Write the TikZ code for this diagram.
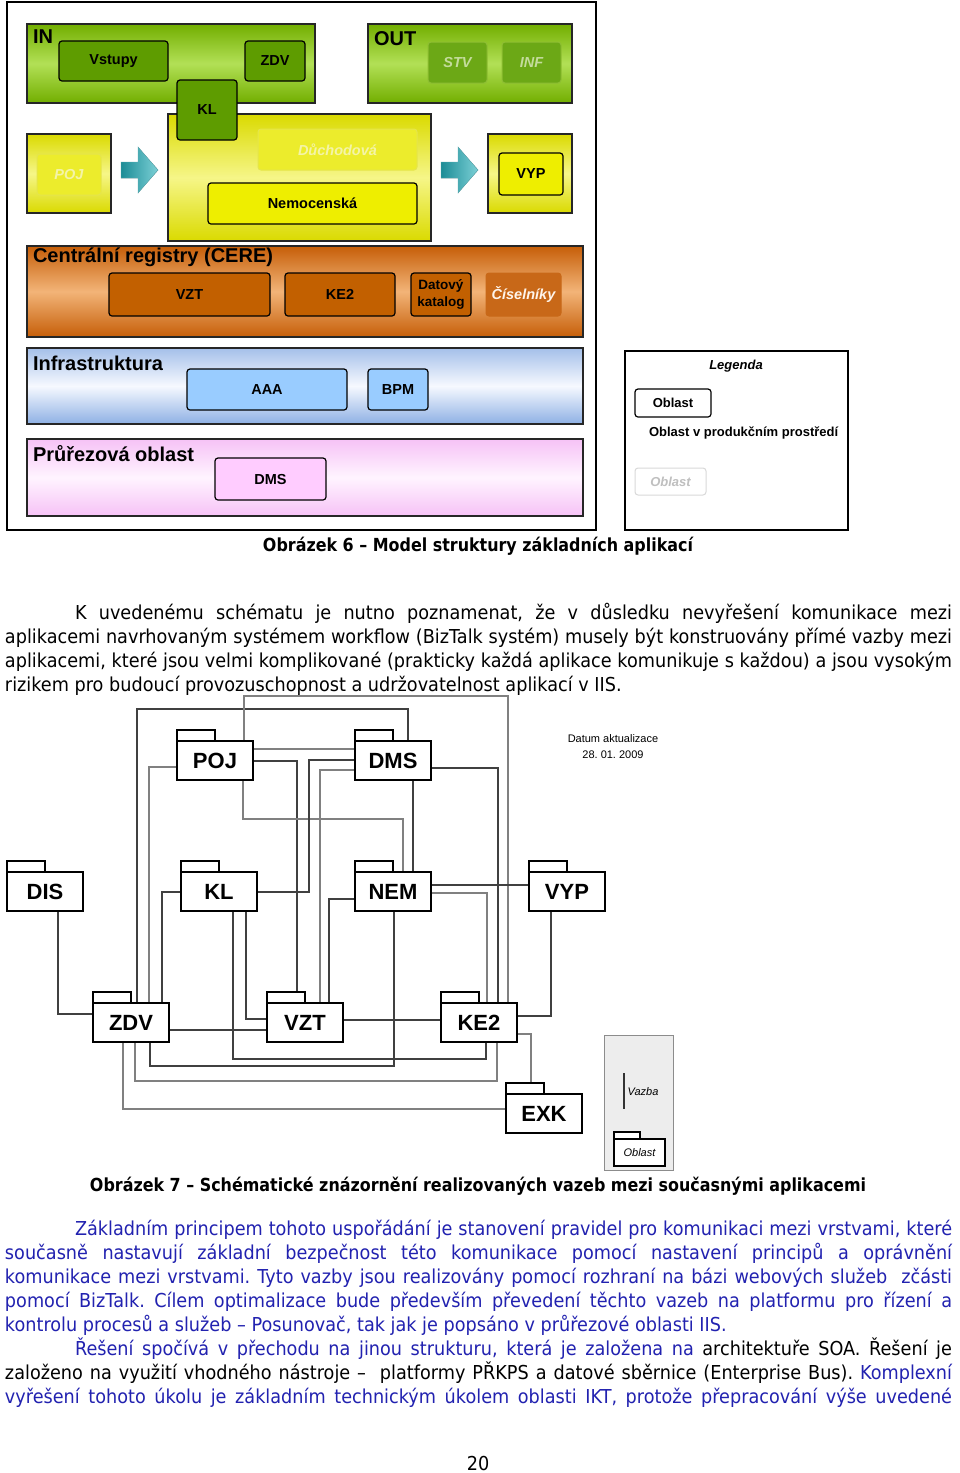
\documentclass[tikz,border=0pt]{standalone}
\usepackage{fontspec}
\usepackage{graphicx}
\newfontfamily\arial{Liberation Sans}
\newfontfamily\bodyf[FakeStretch=0.92]{DejaVu Sans}
\usetikzlibrary{calc}
\pgfdeclarelayer{bg}
\pgfdeclarelayer{wires}
\pgfsetlayers{bg,wires,main}
\frenchspacing
\definecolor{grA}{HTML}{72AE00}
\definecolor{grB}{HTML}{B2E056}
\definecolor{grD}{HTML}{5E9C00}
\definecolor{grF}{HTML}{6CA816}
\definecolor{grT}{HTML}{C4DC9C}
\definecolor{yeA}{HTML}{DADA00}
\definecolor{yeB}{HTML}{F6F688}
\definecolor{yeI}{HTML}{EEEE00}
\definecolor{yeF}{HTML}{ECEC2C}
\definecolor{yeT}{HTML}{F4F4A8}
\definecolor{orA}{HTML}{C65E08}
\definecolor{orB}{HTML}{F2B478}
\definecolor{orI}{HTML}{C26000}
\definecolor{orF}{HTML}{C86818}
\definecolor{blA}{HTML}{8EB0E4}
\definecolor{blB}{HTML}{F6F9FF}
\definecolor{blI}{HTML}{99CCFF}
\definecolor{piA}{HTML}{F6C2F6}
\definecolor{piB}{HTML}{FFF4FF}
\definecolor{piI}{HTML}{FFCCFF}
\definecolor{teA}{HTML}{7CD0D6}
\definecolor{teB}{HTML}{1C8C96}
\definecolor{bluetxt}{RGB}{34,34,176}
\definecolor{lgray}{HTML}{EDEDED}
\tikzset{
  every node/.style={inner sep=0pt,outer sep=0pt},
  areabox/.style={draw=black!85,line width=1.3pt},
  grarea/.style={areabox,top color=grA,bottom color=grA,middle color=grB},
  yearea/.style={areabox,top color=yeA,bottom color=yeA,middle color=yeB},
  orarea/.style={areabox,top color=orA,bottom color=orA,middle color=orB},
  blarea/.style={areabox,top color=blA!80,bottom color=blA,middle color=blB},
  piarea/.style={areabox,top color=piA,bottom color=piA,middle color=piB},
  lbltxt/.style={font=\arial\bfseries\fontsize{14.5}{17}\selectfont},
  ibox/.style={lbltxt,draw=black,line width=1.2pt,rounded corners=3pt},
  fbox/.style={font=\arial\bfseries\itshape\fontsize{14.5}{17}\selectfont,rounded corners=3pt,line width=1pt},
  ttltxt/.style={anchor=base west,font=\arial\bfseries\fontsize{20}{22}\selectfont},
  frmbox/.style={draw=black,line width=1.6pt},
  legtxt/.style={font=\arial\bfseries\fontsize{13}{15}\selectfont},
  bodytxt/.style={anchor=base west,font=\bodyf\fontsize{19.2}{24}\selectfont},
  captxt/.style={anchor=base,font=\bodyf\bfseries\fontsize{18}{22}\selectfont},
  pkgbody/.style={draw=black,fill=white,line width=1.3pt,minimum width=76pt,minimum height=39pt,font=\arial\bfseries\fontsize{22}{24}\selectfont},
  pkgtab/.style={draw=black,fill=white,line width=1.3pt},
  wk/.style={draw=black!75,line width=1.1pt},
  wg/.style={draw=black!50,line width=1.1pt},
  smalltxt/.style={font=\arial\fontsize{11}{13}\selectfont},
  arrowsh/.style={left color=teB,right color=teA,draw=teB!70,line width=0.4pt}
}
\newcommand\bx[7]{\node[#1,anchor=north west,minimum width={(#4-#2)*1pt},minimum height={(#5-#3)*1pt}] (#6) at (#2,#3) {#7};}
\newcommand\pkg[4]{\node[pkgbody,anchor=north west] (#1) at (#2,#3) {#4};\draw[pkgtab] (#1.north west) rectangle ++(38pt,11pt);}
\begin{document}
\begin{tikzpicture}[x=1pt,y=-1pt]
\begin{pgfonlayer}{bg}
\fill[white] (0,0) rectangle (960,1473);
\end{pgfonlayer}
\useasboundingbox (0,0) rectangle (960,1473);

% ---------------- Figure 6 ----------------
\bx{frmbox}{7}{2}{596}{530}{fr6}{}
\bx{grarea}{27}{24}{315}{103}{tIN}{}
\node[ttltxt] (tINl) at (33,43) {IN};
\bx{grarea}{368}{24}{572}{103}{tOUT}{}
\node[ttltxt] (tOUTl) at (374,45) {OUT};
\bx{ibox,fill=grD}{59}{41}{168}{81}{tVst}{Vstupy}
\bx{ibox,fill=grD}{245}{41}{305}{81}{tZDV}{ZDV}
\bx{fbox,fill=grF,draw=grA!80!white,text=grT}{428}{42}{487}{83}{tSTV}{STV}
\bx{fbox,fill=grF,draw=grA!80!white,text=grT}{502}{42}{561}{83}{tINF}{INF}

\bx{yearea}{27}{134}{111}{213}{tPOJa}{}
\bx{fbox,fill=yeF,draw=yeA!70!white,text=yeT}{37}{154}{101}{195}{tPOJ}{POJ}
\bx{yearea}{168}{114}{431}{241}{tBig}{}
\bx{fbox,fill=yeF,draw=yeA!70!white,text=yeT}{258}{129}{417}{170}{tDuch}{Důchodová}
\bx{ibox,fill=yeI}{208}{183}{417}{224}{tNem}{Nemocenská}
\bx{yearea}{488}{134}{572}{213}{tVYPa}{}
\bx{ibox,fill=yeI}{499}{153}{563}{195}{tVYP}{VYP}
\bx{ibox,fill=grD}{177}{80}{237}{140}{tKL}{KL}

\fill[arrowsh] (121,162) -- (138,162) -- (138,147) -- (158,170) -- (138,193) -- (138,178) -- (121,178) -- cycle;
\fill[arrowsh] (441,162) -- (458,162) -- (458,147) -- (478,170) -- (458,193) -- (458,178) -- (441,178) -- cycle;

\bx{orarea}{27}{246}{583}{337}{tCERE}{}
\node[ttltxt] (tCEREl) at (33,262) {Centrální registry (CERE)};
\bx{ibox,fill=orI}{109}{273}{270}{316}{tVZT}{VZT}
\bx{ibox,fill=orI}{285}{273}{395}{316}{tKE2}{KE2}
\bx{ibox,fill=orI,align=center,font=\arial\bfseries\fontsize{13.5}{17}\selectfont}{411}{273}{471}{316}{tDK}{Datový\\katalog}
\bx{fbox,fill=orF,draw=orF,text=white!92!orange}{486}{273}{561}{316}{tCis}{Číselníky}

\bx{blarea}{27}{348}{583}{424}{tInf}{}
\node[ttltxt] (tInfl) at (33,370) {Infrastruktura};
\bx{ibox,fill=blI}{187}{369}{347}{410}{tAAA}{AAA}
\bx{ibox,fill=blI}{368}{369}{428}{410}{tBPM}{BPM}

\bx{piarea}{27}{439}{583}{516}{tPru}{}
\node[ttltxt] (tPrul) at (33,461) {Průřezová oblast};
\bx{ibox,fill=piI}{215}{458}{326}{500}{tDMS}{DMS}

% legend
\bx{draw=black,line width=1.5pt}{625}{351}{848}{530}{tLeg}{}
\node[legtxt,font=\arial\bfseries\itshape\fontsize{13}{15}\selectfont] (tLegT) at (736,366) {Legenda};
\bx{legtxt,draw=black,line width=1.2pt,rounded corners=3pt,fill=white}{635}{389}{711}{417}{tLegO}{Oblast}
\node[legtxt,anchor=west] (tLegD) at (649,433) {Oblast v produkčním prostředí};
\bx{draw=black!15,line width=1pt,rounded corners=3pt,text=black!25,font=\arial\bfseries\itshape\fontsize{13}{15}\selectfont}{635}{468}{706}{495}{tLegF}{Oblast}

\node[captxt] (cap6) at (478,551) {\resizebox{430pt}{\height}{Obrázek 6 – Model struktury základních aplikací}};

% ---------------- paragraph 1 ----------------
\node[bodytxt] (a1) at (75,619) {\makebox[877pt][s]{K uvedenému schématu je nutno poznamenat, že v důsledku nevyřešení komunikace mezi}};
\node[bodytxt] (a2) at (5,643) {\makebox[947pt][s]{aplikacemi navrhovaným systémem workflow (BizTalk systém) musely být konstruovány přímé vazby mezi}};
\node[bodytxt] (a3) at (5,667) {\makebox[947pt][s]{aplikacemi, které jsou velmi komplikované (prakticky každá aplikace komunikuje s každou) a jsou vysokým}};
\node[bodytxt] (a4) at (5,691) {rizikem pro budoucí provozuschopnost a udržovatelnost aplikací v IIS.};

% ---------------- Figure 7 ----------------
\pkg{pPOJ}{177}{741}{POJ}
\pkg{pDMS}{355}{741}{DMS}
\pkg{pDIS}{7}{872}{DIS}
\pkg{pKL}{181}{872}{KL}
\pkg{pNEM}{355}{872}{NEM}
\pkg{pVYP}{529}{872}{VYP}
\pkg{pZDV}{93}{1003}{ZDV}
\pkg{pVZT}{267}{1003}{VZT}
\pkg{pKE2}{441}{1003}{KE2}
\pkg{pEXK}{506}{1094}{EXK}

\begin{pgfonlayer}{wires}
\draw[wk] (pDMS.center -| 408,0) |- (137,709) -- (pZDV.center -| 137,0);
\draw[wg] (pPOJ.center -| 244,0) |- (508,696) -- (pKE2.center -| 508,0);
\draw[wg] (pPOJ.center |- 0,749) -- (pDMS.center |- 0,749);
\draw[wk] (pPOJ.center |- 0,761) -| (pVZT.center -| 297,0);
\draw[wg] (pPOJ.center |- 0,767) -| (pZDV.center -| 149,0);
\draw[wg] (pPOJ.center -| 243,0) |- (403,819) -- (pNEM.center -| 403,0);
\draw[wk] (pDMS.center |- 0,760) -| (309,892) -- (pKL.center |- 0,892);
\draw[wg] (pDMS.center |- 0,770) -| (pVZT.center -| 320,0);
\draw[wk] (pDMS.center -| 413,0) -- (pNEM.center -| 413,0);
\draw[wk] (pDMS.center |- 0,768) -| (pKE2.center -| 498,0);
\draw[wk] (pNEM.center |- 0,899) -| (pVZT.center -| 329,0);
\draw[wk] (pNEM.center |- 0,885) -- (pVYP.center |- 0,885);
\draw[wg] (pNEM.center |- 0,893) -| (pKE2.center -| 487,0);
\draw[wk] (pNEM.center -| 394,0) |- (150,1066) -- (pZDV.center -| 150,0);
\draw[wk] (pVYP.center -| 551,0) |- (pKE2.center |- 0,1016);
\draw[wk] (pVZT.center |- 0,1020) -- (pKE2.center |- 0,1020);
\draw[wk] (pZDV.center |- 0,1030) -- (pVZT.center |- 0,1030);
\draw[wk] (pKL.center |- 0,892) -| (pZDV.center -| 162,0);
\draw[wk] (pKL.center -| 246,0) |- (pVZT.center |- 0,1019);
\draw[wk] (pKL.center -| 233,0) |- (486,1059) -- (pKE2.center -| 486,0);
\draw[wk] (pDIS.center -| 58,0) |- (pZDV.center |- 0,1014);
\draw[wg] (pZDV.center -| 135,0) |- (497,1081) -- (pKE2.center -| 497,0);
\draw[wg] (pZDV.center -| 123,0) |- (pEXK.center |- 0,1109);
\draw[wg] (pKE2.center |- 0,1034) -| (pEXK.center -| 531,0);
\end{pgfonlayer}

\node[smalltxt] (dat1) at (613,739) {Datum aktualizace};
\node[smalltxt] (dat2) at (613,755) {28. 01. 2009};

% legend 7
\bx{fill=lgray,draw=black!45,line width=1pt}{604}{1035}{673}{1170}{pLeg}{}
\coordinate (vzA) at (624,1073);
\coordinate (vzB) at (624,1109);
\draw[black!80,line width=1.3pt] (vzA) -- (vzB);
\node[smalltxt,font=\arial\itshape\fontsize{11}{13}\selectfont] (vzT) at (643,1092) {Vazba};
\node[draw=black,fill=white,line width=1.2pt,anchor=north west,minimum width=51pt,minimum height=27pt,font=\arial\itshape\fontsize{11}{13}\selectfont] (pLegO) at (614,1139) {Oblast};
\draw[pkgtab,line width=1.2pt] (pLegO.north west) rectangle ++(26pt,7pt);

\node[captxt] (cap7) at (478,1191) {\resizebox{776pt}{\height}{Obrázek 7 – Schématické znázornění realizovaných vazeb mezi současnými aplikacemi}};

% ---------------- paragraph 2 ----------------
\begin{scope}[every node/.append style={text=bluetxt}]
\node[bodytxt] (b1) at (75,1235) {\makebox[877pt][s]{Základním principem tohoto uspořádání je stanovení pravidel pro komunikaci mezi vrstvami, které}};
\node[bodytxt] (b2) at (5,1259) {\makebox[947pt][s]{současně nastavují základní bezpečnost této komunikace pomocí nastavení principů a oprávnění}};
\node[bodytxt] (b3) at (5,1283) {\makebox[947pt][s]{komunikace mezi vrstvami. Tyto vazby jsou realizovány pomocí rozhraní na bázi webových služeb~ zčásti}};
\node[bodytxt] (b4) at (5,1307) {\makebox[947pt][s]{pomocí BizTalk. Cílem optimalizace bude především převedení těchto vazeb na platformu pro řízení a}};
\node[bodytxt] (b5) at (5,1331) {kontrolu procesů a služeb – Posunovač, tak jak je popsáno v průřezové oblasti IIS.};
\node[bodytxt] (b6) at (75,1355) {\makebox[877pt][s]{Řešení spočívá v přechodu na jinou strukturu, která je založena na \color{black}architektuře SOA. Řešení je}};
\node[bodytxt] (b7) at (5,1379) {\makebox[947pt][s]{\color{black}založeno na využití vhodného nástroje –~ platformy PŘKPS a datové sběrnice (Enterprise Bus). \color{bluetxt}Komplexní}};
\node[bodytxt] (b8) at (5,1403) {\makebox[947pt][s]{vyřešení tohoto úkolu je základním technickým úkolem oblasti IKT, protože přepracování výše uvedené}};
\end{scope}

\node[bodytxt,anchor=base] (pg) at (478,1470) {20};
\end{tikzpicture}
\end{document}
